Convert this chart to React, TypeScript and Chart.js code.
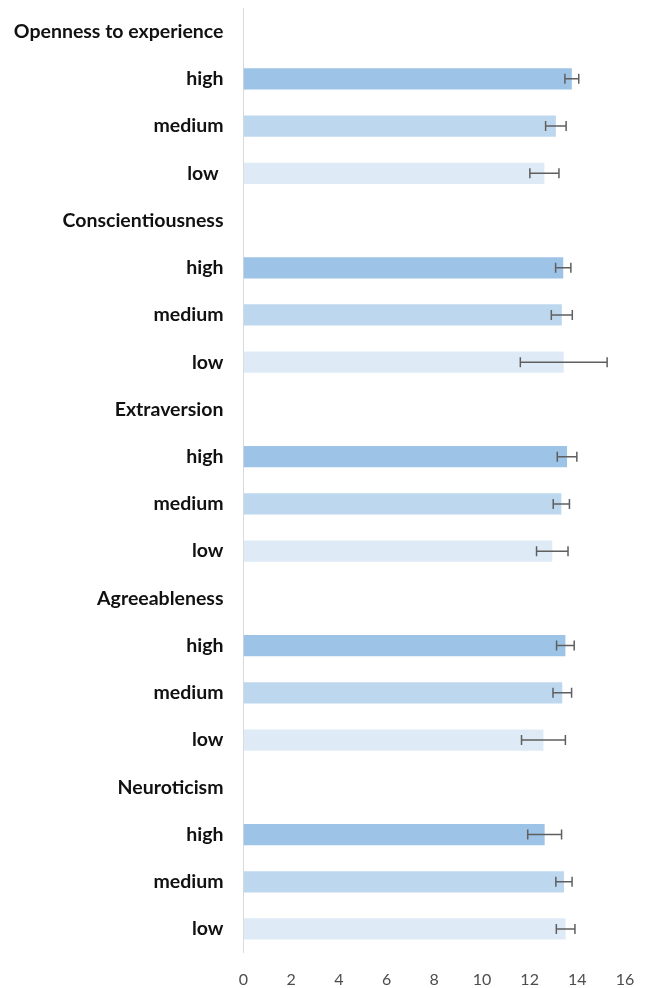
import React, { useEffect, useRef } from "react";
import { Chart, registerables } from "chart.js";
Chart.register(...registerables);

const categories = [
  "Openness to experience", "high", "medium", "low ",
  "Conscientiousness", "high", "medium", "low",
  "Extraversion", "high", "medium", "low",
  "Agreeableness", "high", "medium", "low",
  "Neuroticism", "high", "medium", "low",
];
const levels = [
  "header", "high", "medium", "low",
  "header", "high", "medium", "low",
  "header", "high", "medium", "low",
  "header", "high", "medium", "low",
  "header", "high", "medium", "low",
];
const means = [
  null, 13.77, 13.1, 12.62,
  null, 13.41, 13.35, 13.43,
  null, 13.57, 13.33, 12.95,
  null, 13.5, 13.37, 12.58,
  null, 12.63, 13.44, 13.51,
];
const errors = [
  null, 0.29, 0.43, 0.61,
  null, 0.32, 0.44, 1.82,
  null, 0.41, 0.34, 0.66,
  null, 0.37, 0.39, 0.92,
  null, 0.71, 0.34, 0.39,
];
const xMin = 0;
const xMax = 16;
const xStep = 2;

const levelColors: Record<string, string> = {
  high: "#9DC3E6",
  medium: "#BDD7EE",
  low: "#DEEBF7",
  header: "rgba(0,0,0,0)",
};

const errorBarPlugin = {
  id: "errorBars",
  afterDatasetsDraw(chart: any) {
    const { ctx } = chart;
    const x = chart.scales.x;
    const meta = chart.getDatasetMeta(0);
    ctx.save();
    ctx.strokeStyle = "#5F5F5F";
    ctx.lineWidth = 1.5;
    meta.data.forEach((el: any, i: number) => {
      const m = means[i];
      const e = errors[i];
      if (m == null || e == null) return;
      const y = el.y;
      const x1 = x.getPixelForValue(m - e);
      const x2 = x.getPixelForValue(m + e);
      ctx.beginPath();
      ctx.moveTo(x1, y);
      ctx.lineTo(x2, y);
      ctx.moveTo(x1, y - 5);
      ctx.lineTo(x1, y + 5);
      ctx.moveTo(x2, y - 5);
      ctx.lineTo(x2, y + 5);
      ctx.stroke();
    });
    ctx.restore();
  },
};

export default function App() {
  const ref = useRef<HTMLCanvasElement | null>(null);
  useEffect(() => {
    if (!ref.current) return;
    const chart = new Chart(ref.current, {
      type: "bar",
      data: {
        labels: categories,
        datasets: [
          {
            data: means as any,
            backgroundColor: levels.map((l) => levelColors[l]),
            borderWidth: 0,
            barPercentage: 0.45,
            categoryPercentage: 1,
          },
        ],
      },
      options: {
        indexAxis: "y",
        responsive: false,
        animation: false,
        layout: { padding: { top: 8, right: 23, bottom: 0, left: 0 } },
        plugins: { legend: { display: false }, tooltip: { enabled: false } },
        scales: {
          x: {
            min: xMin,
            max: xMax,
            ticks: {
              stepSize: xStep,
              font: { family: "Lato", size: 16 },
              color: "#4D4D4D",
              padding: 10,
            },
            grid: { display: false },
            border: { display: false },
            afterFit: (s: any) => {
              s.height = 35.4;
              s.paddingLeft = 0;
              s.paddingRight = 0;
            },
          },
          y: {
            ticks: {
              font: { family: "Lato", size: 19.5, weight: "bold" },
              color: "#111111",
              padding: 20,
            },
            grid: { display: true, drawOnChartArea: false, drawTicks: false },
            border: { display: true, color: "#D9D9D9", width: 1 },
            afterFit: (s: any) => {
              s.width = 243.5;
              s.paddingTop = 0;
              s.paddingBottom = 0;
            },
          },
        },
      },
      plugins: [errorBarPlugin],
    });
    return () => chart.destroy();
  }, []);
  return (
    <canvas
      ref={ref}
      width={648}
      height={988}
      style={{ position: "absolute", left: 0, top: 0, width: 648, height: 988 }}
    />
  );
}
